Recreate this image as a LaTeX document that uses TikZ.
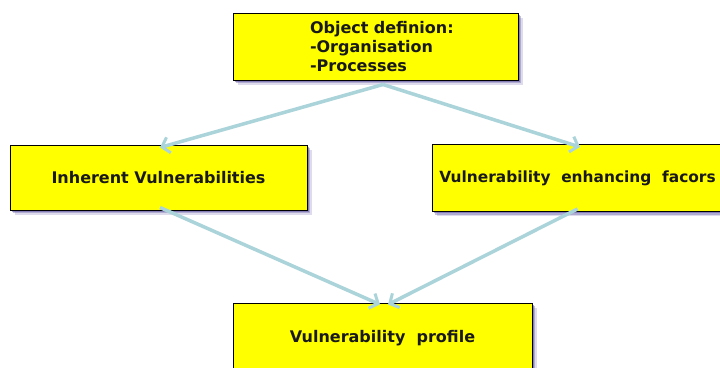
\documentclass[tikz,border=0pt]{standalone}
\usepackage{fontspec}
\setmainfont{DejaVu Sans}
\usetikzlibrary{arrows.meta,shadows}
\definecolor{boxyellow}{RGB}{255,255,0}
\definecolor{flowblue}{RGB}{170,212,218}
\definecolor{shadowpurple}{RGB}{90,80,160}
\tikzset{
  stage/.style={draw=black, line width=1pt, fill=boxyellow,
    font=\bfseries\fontsize{16}{19}\selectfont, text=black!90,
    drop shadow={shadow xshift=4.5pt, shadow yshift=-4.5pt, fill=shadowpurple, opacity=0.2},
    drop shadow={shadow xshift=3pt, shadow yshift=-3pt, fill=shadowpurple, opacity=0.35},
    drop shadow={shadow xshift=1.5pt, shadow yshift=-1.5pt, fill=shadowpurple, opacity=0.5}},
  flow/.style={draw=flowblue, line width=3.5pt,
    -{Straight Barb[length=7pt,width=16pt,line width=3pt]}}
}
\begin{document}
\begin{tikzpicture}[x=1pt,y=-1pt]
  \useasboundingbox (0,0) rectangle (720,367);
  \clip (0,0) rectangle (720,367);
  \fill[white] (0,0) rectangle (720,367);

  % the four stages
  \node[stage, inner sep=0pt, text width=285pt, minimum height=67pt, align=left]
    (def) at (375.5,46.5) {\hspace*{77pt}Object definion:\\\hspace*{77pt}-Organisation\\\hspace*{77pt}-Processes};
  \node[stage, minimum width=297pt, minimum height=65pt]
    (inh) at (158.5,177.5) {Inherent Vulnerabilities};
  \node[stage, minimum width=291pt, minimum height=67pt,
        font=\bfseries\fontsize{15.4}{19}\selectfont]
    (enh) at (577.5,178) {Vulnerability\ \ enhancing\ \ facors};
  \node[stage, minimum width=299pt, minimum height=70pt]
    (prof) at (382.5,338) {Vulnerability\ \ profile};

  % connectors
  \draw[flow] ([xshift=7.5pt,yshift=-4pt]def.south) -- ([xshift=1.5pt,yshift=-3pt]inh.north);
  \draw[flow] ([xshift=7.5pt,yshift=-4pt]def.south) -- ([xshift=2.5pt,yshift=-3pt]enh.north);
  \draw[flow] ([xshift=1.5pt,yshift=3pt]inh.south) -- ([xshift=-2.5pt,yshift=-2pt]prof.north);
  \draw[flow] ([xshift=0pt,yshift=3pt]enh.south) -- ([xshift=5.5pt,yshift=-2pt]prof.north);
\end{tikzpicture}
\end{document}
